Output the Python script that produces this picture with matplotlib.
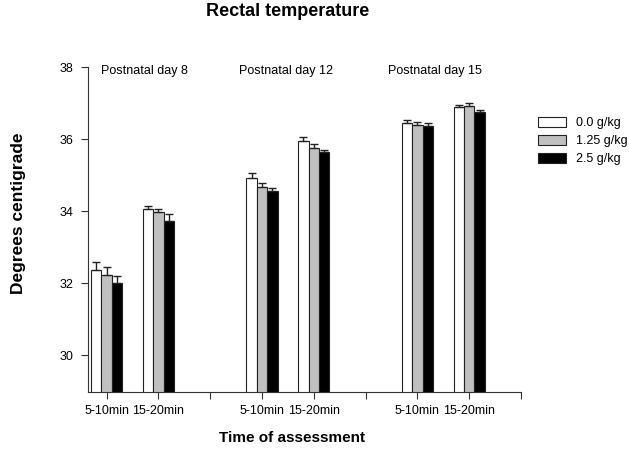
import matplotlib
matplotlib.use("Agg")
import matplotlib.pyplot as plt
import numpy as np

plt.rcParams['font.family'] = ['Liberation Sans', 'DejaVu Sans']

days = ["Postnatal day 8", "Postnatal day 12", "Postnatal day 15"]
times = ["5-10min", "15-20min"]
doses = ["0.0 g/kg", "1.25 g/kg", "2.5 g/kg"]

# mean values: rows = dose, columns = (day, time) in order
mean_00 = [32.38, 34.05, 34.93, 35.96, 36.44, 36.90]
mean_125 = [32.24, 33.98, 34.68, 35.76, 36.40, 36.92]
mean_25 = [32.01, 33.73, 34.55, 35.63, 36.37, 36.75]
se_00 = [0.21, 0.10, 0.12, 0.10, 0.08, 0.05]
se_125 = [0.21, 0.07, 0.11, 0.10, 0.07, 0.07]
se_25 = [0.18, 0.18, 0.10, 0.08, 0.08, 0.05]

means = [mean_00, mean_125, mean_25]
ses = [se_00, se_125, se_25]
colors = ["white", "#c0c0c0", "black"]

fig = plt.figure(figsize=(6.29, 4.5), dpi=100)
ax = fig.add_axes([88/629, 1-391.5/450, (521-88)/629, (391.5-67)/450])

# category slots: two times per day, one empty slot between days
pos = np.array([0, 1, 3, 4, 6, 7], dtype=float)
w = 0.2
for i in range(3):
    x = pos + (i - 1) * w
    ax.bar(x, means[i], width=w, color=colors[i], edgecolor="#222222",
           linewidth=0.8, label=doses[i], zorder=2)
    ax.errorbar(x, means[i], yerr=[np.zeros(len(ses[i])), ses[i]], fmt='none',
                ecolor="#222222", elinewidth=1, capsize=3.2, capthick=1, zorder=3)

ax.set_ylim(29, 38)
ax.set_xlim(-0.36, 8)
ax.set_yticks([30, 32, 34, 36, 38])
ax.set_xticks(np.arange(0, 9))
labels = []
for k in range(9):
    if k % 3 == 0:
        labels.append(times[0])
    elif k % 3 == 1:
        labels.append(times[1])
    else:
        labels.append("")
ax.set_xticklabels(labels)
ax.tick_params(axis='both', labelsize=9, direction='out', length=5, width=0.8, colors="#333333", labelcolor="black")
ax.tick_params(axis='x', pad=5)
ax.tick_params(axis='y', pad=5.5)
ax.spines['top'].set_visible(False)
ax.spines['right'].set_visible(False)
for s in ['left', 'bottom']:
    ax.spines[s].set_linewidth(0.8)
    ax.spines[s].set_color("#333333")

day_x = [0.72, 3.47, 6.33]
for dx, d in zip(day_x, days):
    ax.text(dx, 37.9, d, ha='center', va='center', fontsize=9)

fig.text(288/629, 1-12/450, "Rectal temperature", ha='center', va='center', fontsize=13, fontweight='bold')
fig.text(292/629, 1-438/450, "Time of assessment", ha='center', va='center', fontsize=11, fontweight='bold')
fig.text(19/629, 1-213/450, "Degrees centigrade", ha='center', va='center', rotation=90, fontsize=12.5, fontweight='bold')

ax.legend(loc='upper left', bbox_to_anchor=(533/629, 1-112/450), bbox_transform=fig.transFigure,
          frameon=False, fontsize=9, handlelength=2.2, handleheight=0.85, labelspacing=0.45,
          handletextpad=0.8, borderaxespad=0)

fig.savefig("out.png", dpi=100)
